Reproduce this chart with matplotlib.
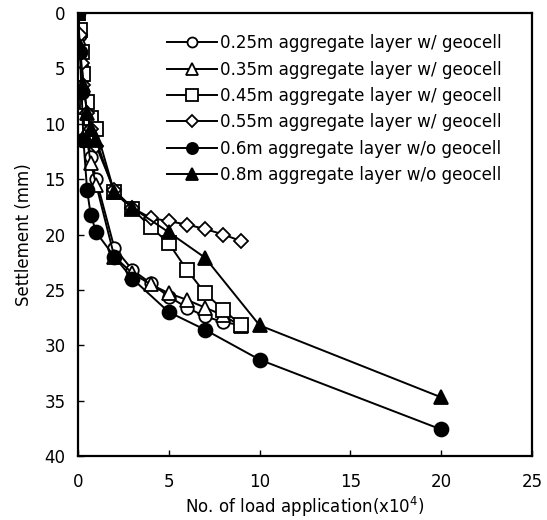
import matplotlib
matplotlib.use('Agg')
import matplotlib.pyplot as plt

plt.rcParams['font.family'] = ['DejaVu Sans']

# load applications (x10^4) and settlement (mm) per case
x_025 = [0, 0.1, 0.2, 0.3, 0.5, 0.7, 1, 2, 3, 4, 5, 6, 7, 8, 9]
y_025 = [0, 2, 5, 8, 11, 13, 15, 21.2, 23.2, 24.4, 25.6, 26.6, 27.4, 27.9, 28.2]
x_035 = [0, 0.1, 0.2, 0.3, 0.5, 0.7, 1, 2, 3, 4, 5, 6, 7, 8, 9]
y_035 = [0, 2.5, 5.5, 8.5, 11.5, 13.5, 15.5, 22, 23.5, 24.5, 25.3, 25.9, 26.6, 27.3, 28.3]
x_045 = [0, 0.1, 0.2, 0.3, 0.5, 0.7, 1, 2, 3, 4, 5, 6, 7, 8, 9]
y_045 = [0, 1.5, 3.5, 5.5, 8, 9.5, 10.5, 16.2, 17.7, 19.3, 20.8, 23.2, 25.3, 26.8, 28.2]
x_055 = [0, 0.1, 0.2, 0.3, 0.5, 0.7, 1, 2, 3, 4, 5, 6, 7, 8, 9]
y_055 = [0, 2, 4.5, 6.5, 9, 10.5, 12, 16, 17.6, 18.5, 18.8, 19.1, 19.5, 20.0, 20.6]
x_06 = [0, 0.1, 0.2, 0.3, 0.5, 0.7, 1, 2, 3, 5, 7, 10, 20]
y_06 = [0, 3.5, 7.1, 11.5, 16, 18.2, 19.8, 22, 24, 27, 28.6, 31.3, 37.6]
x_08 = [0, 0.1, 0.3, 0.5, 0.7, 1, 2, 3, 5, 7, 10, 20]
y_08 = [0, 3, 6.5, 9, 10.5, 11.5, 16.2, 17.6, 19.8, 22.1, 28.2, 34.7]

labels = ['0.25m aggregate layer w/ geocell',
          '0.35m aggregate layer w/ geocell',
          '0.45m aggregate layer w/ geocell',
          '0.55m aggregate layer w/ geocell',
          '0.6m aggregate layer w/o geocell',
          '0.8m aggregate layer w/o geocell']

fig = plt.figure(figsize=(5.47, 5.2), dpi=100)
ax = fig.add_axes([0.1426, 0.123, 0.83, 0.852])

series = [(x_025, y_025, 'o', 'white'),
          (x_035, y_035, '^', 'white'),
          (x_045, y_045, 's', 'white'),
          (x_055, y_055, 'D', 'white'),
          (x_06, y_06, 'o', 'black'),
          (x_08, y_08, '^', 'black')]
sizes = [9, 10, 10, 7.5, 10, 10]
for (xs, ys, m, fc), ms, lab in zip(series, sizes, labels):
    ax.plot(xs, ys, '-', color='black', lw=1.4, marker=m, ms=ms,
            mfc=fc, mec='black', mew=1.3, label=lab)

ax.set_xlim(0, 25)
ax.set_ylim(40, 0)
ax.set_xticks(range(0, 26, 5))
ax.set_yticks(range(0, 41, 5))
ax.tick_params(direction='in', labelsize=12, width=1, length=4)
ax.tick_params(axis='x', pad=12)
ax.tick_params(axis='y', pad=9)
for s in ax.spines.values():
    s.set_linewidth(1.6)

ax.set_xlabel('No. of load application(x10$^4$)', fontsize=12, labelpad=3)
ax.set_ylabel('Settlement (mm)', fontsize=12, labelpad=8)

ax.legend(loc='upper right', bbox_to_anchor=(0.955, 0.975), frameon=False,
          fontsize=12.1, handlelength=3.0, handletextpad=0.15, labelspacing=0.5,
          markerscale=0.8, borderaxespad=0.2)

plt.savefig('out.png', dpi=100)
plt.close()
